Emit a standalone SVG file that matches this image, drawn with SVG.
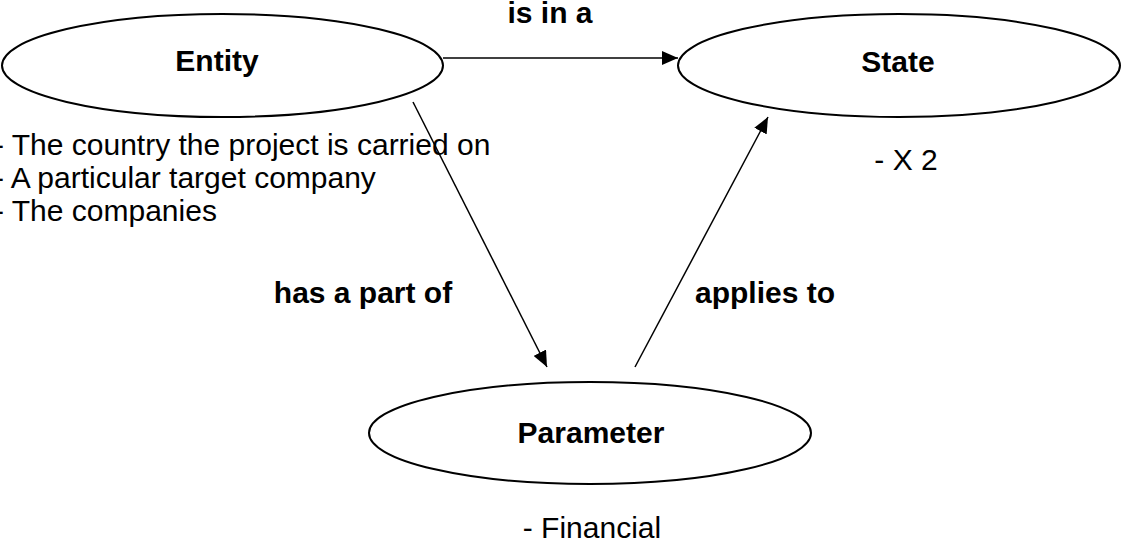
<svg xmlns="http://www.w3.org/2000/svg" width="1124" height="543" viewBox="0 0 1124 543">
  <style>
    .node { fill: #ffffff; stroke: #000000; stroke-width: 2; }
    .title { font-family: "Liberation Sans", Arial, sans-serif; font-weight: bold; font-size: 30px; fill: #000000; }
    .label { font-family: "Liberation Sans", Arial, sans-serif; font-weight: bold; font-size: 30px; fill: #000000; }
    .note { font-family: "Liberation Sans", Arial, sans-serif; font-size: 30px; fill: #000000; }
    .edge { fill: none; stroke: #000000; stroke-width: 1.5; }
  </style>
  <defs>
    <marker id="arrow" viewBox="0 0 16 14" refX="16" refY="7" markerWidth="16" markerHeight="14" markerUnits="userSpaceOnUse" orient="auto">
      <path d="M0,0 L16,7 L0,14 Z" fill="#000000"/>
    </marker>
  </defs>

  <rect width="1124" height="543" fill="#ffffff"/>

  <g id="connectors">
    <line class="edge" x1="443" y1="58" x2="678" y2="58" marker-end="url(#arrow)"/>
    <line class="edge" x1="413" y1="102" x2="547" y2="367" marker-end="url(#arrow)"/>
    <line class="edge" x1="635" y1="367" x2="768" y2="117" marker-end="url(#arrow)"/>
    <text class="label" x="550" y="23" text-anchor="middle">is in a</text>
    <text class="label" x="363" y="303" text-anchor="middle">has a part of</text>
    <text class="label" x="765" y="303" text-anchor="middle">applies to</text>
  </g>

  <g id="entity">
    <ellipse class="node" cx="222.5" cy="65.5" rx="220.5" ry="51.5"/>
    <text class="title" x="217" y="71" text-anchor="middle">Entity</text>
    <text class="note" x="-6" y="155">- The country the project is carried on</text>
    <text class="note" x="-6" y="188">- A particular target company</text>
    <text class="note" x="-6" y="221">- The companies</text>
  </g>

  <g id="state">
    <ellipse class="node" cx="899" cy="65.5" rx="221" ry="51.5"/>
    <text class="title" x="898" y="72" text-anchor="middle">State</text>
    <text class="note" x="906" y="170" text-anchor="middle">- X 2</text>
  </g>

  <g id="parameter">
    <ellipse class="node" cx="590" cy="433" rx="221" ry="51"/>
    <text class="title" x="591" y="443" text-anchor="middle">Parameter</text>
    <text class="note" x="592" y="538" text-anchor="middle">- Financial</text>
  </g>
</svg>
